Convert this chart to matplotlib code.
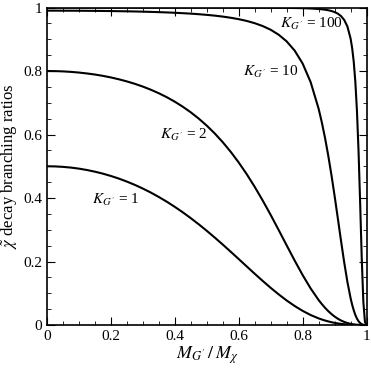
import matplotlib
matplotlib.use("Agg")
import matplotlib.pyplot as plt
from matplotlib.ticker import MultipleLocator

plt.rcParams["font.family"] = "Liberation Serif"
plt.rcParams["mathtext.fontset"] = "stix"

# mass ratio M_G'/M_chi (denser near the end point)
x = [0.0, 0.025, 0.05, 0.075, 0.1, 0.125, 0.15, 0.175, 0.2, 0.225, 0.25,
     0.275, 0.3, 0.325, 0.35, 0.375, 0.4, 0.425, 0.45, 0.475, 0.5, 0.525,
     0.55, 0.575, 0.6, 0.625, 0.65, 0.675, 0.7, 0.725, 0.75, 0.775, 0.8,
     0.825, 0.85, 0.86, 0.87, 0.88, 0.89, 0.9, 0.91, 0.92, 0.93, 0.94,
     0.95, 0.955, 0.96, 0.965, 0.97, 0.975, 0.98, 0.985, 0.99, 0.995, 1.0]

br_k1 = [0.500, 0.4995, 0.4981, 0.4958, 0.4925, 0.4882, 0.4829, 0.4767,
         0.4694, 0.4611, 0.4517, 0.4413, 0.4297, 0.4171, 0.4032, 0.3883,
         0.3721, 0.3549, 0.3365, 0.3171, 0.2967, 0.2754, 0.2534, 0.2307,
         0.2077, 0.1845, 0.1615, 0.1389, 0.1171, 0.0965, 0.0773, 0.0599,
         0.0446, 0.0315, 0.0209, 0.0174, 0.0142, 0.0114, 0.0089, 0.0068,
         0.0051, 0.0036, 0.0025, 0.0016, 0.0009, 0.0007, 0.0005, 0.0003,
         0.0002, 0.0001, 0.0001, 0.0, 0.0, 0.0, 0.0]
br_k2 = [0.800, 0.7997, 0.7988, 0.7973, 0.7951, 0.7923, 0.7889, 0.7847,
         0.7797, 0.7739, 0.7672, 0.7596, 0.7509, 0.7410, 0.7299, 0.7174,
         0.7033, 0.6875, 0.6698, 0.6500, 0.6279, 0.6032, 0.5758, 0.5454,
         0.5118, 0.4751, 0.4352, 0.3922, 0.3467, 0.2992, 0.2509, 0.2031,
         0.1573, 0.1153, 0.0787, 0.0660, 0.0543, 0.0439, 0.0347, 0.0267,
         0.0199, 0.0143, 0.0098, 0.0063, 0.0037, 0.0027, 0.0019, 0.0013,
         0.0008, 0.0005, 0.0002, 0.0001, 0.0, 0.0, 0.0]
br_k10 = [0.9901, 0.9901, 0.9900, 0.9899, 0.9898, 0.9896, 0.9894, 0.9891,
          0.9888, 0.9884, 0.9880, 0.9875, 0.9869, 0.9862, 0.9854, 0.9845,
          0.9834, 0.9821, 0.9807, 0.9789, 0.9768, 0.9744, 0.9714, 0.9677,
          0.9633, 0.9577, 0.9506, 0.9416, 0.9299, 0.9143, 0.8933, 0.8643,
          0.8235, 0.7651, 0.6812, 0.6384, 0.5896, 0.5345, 0.4733, 0.4068,
          0.3369, 0.2660, 0.1978, 0.1362, 0.0848, 0.0637, 0.0460, 0.0315,
          0.0202, 0.0119, 0.0062, 0.0026, 0.0008, 0.0001, 0.0]
br_k100 = [0.9999, 0.9999, 0.9999, 0.9999, 0.9999, 0.9999, 0.9999, 0.9999,
           0.9999, 0.9999, 0.9999, 0.9999, 0.9999, 0.9999, 0.9999, 0.9998,
           0.9998, 0.9998, 0.9998, 0.9998, 0.9998, 0.9997, 0.9997, 0.9997,
           0.9996, 0.9996, 0.9995, 0.9994, 0.9992, 0.9991, 0.9988, 0.9984,
           0.9979, 0.9969, 0.9953, 0.9944, 0.9931, 0.9914, 0.9890, 0.9856,
           0.9807, 0.9731, 0.9610, 0.9404, 0.9026, 0.8719, 0.8281, 0.7649,
           0.6737, 0.5462, 0.3831, 0.2088, 0.0730, 0.0098, 0.0]

labels = ["$K_{G'}$ = 1", "$K_{G'}$ = 2", "$K_{G'}$ = 10", "$K_{G'}$ = 100"]
label_pos = [(0.14, 0.394), (0.353, 0.598), (0.613, 0.797), (0.728, 0.948)]
tick_labels = ["0", "0.2", "0.4", "0.6", "0.8", "1"]

fig = plt.figure(figsize=(3.71, 3.68), dpi=100)
ax = fig.add_axes([0.1267, 0.1168, 0.8613, 0.8628])

for ys in (br_k1, br_k2, br_k10, br_k100):
    ax.plot(x, ys, color="black", lw=1.5)

for lab, (tx, ty) in zip(labels, label_pos):
    ax.text(tx, ty, lab, fontsize=11, va="center", ha="left")

ax.set_xlim(0, 1)
ax.set_ylim(0, 1)
ax.set_xticks([0, 0.2, 0.4, 0.6, 0.8, 1.0])
ax.set_yticks([0, 0.2, 0.4, 0.6, 0.8, 1.0])
ax.set_xticklabels(tick_labels)
ax.set_yticklabels(tick_labels)
ax.xaxis.set_minor_locator(MultipleLocator(0.05))
ax.yaxis.set_minor_locator(MultipleLocator(0.05))
ax.tick_params(which="both", direction="in", top=True, right=True,
               labelsize=11)
ax.tick_params(which="major", length=6)
ax.tick_params(which="minor", length=3)
for s in ax.spines.values():
    s.set_linewidth(1.2)

ax.set_xlabel("$M_{G'}\\,/\\,M_{\\chi}$", fontsize=13, labelpad=1)
ax.set_ylabel("$\\tilde{\\chi}$ decay branching ratios", fontsize=12,
              labelpad=2)

fig.savefig("out.png", dpi=100)
